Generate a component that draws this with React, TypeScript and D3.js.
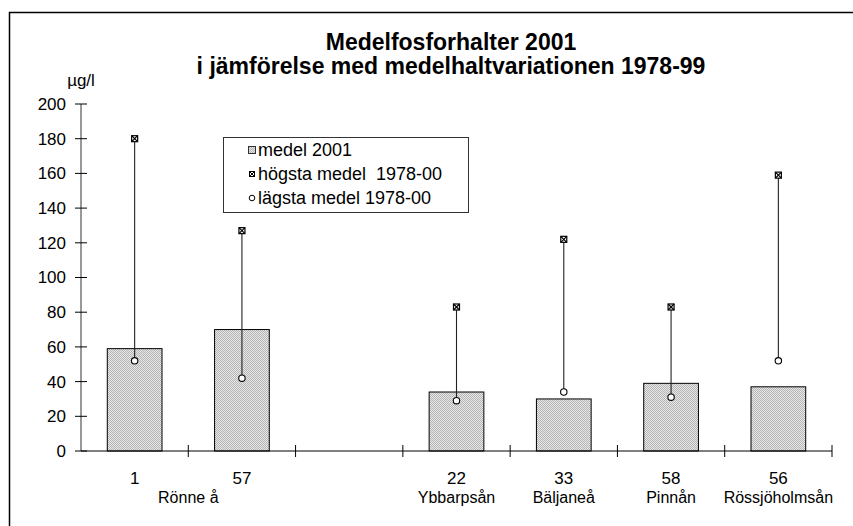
import React from 'react'
import * as d3 from 'd3'

// stations (slot 2 is an empty gap in the original chart)
const stations = ['1', '57', '', '22', '33', '58', '56']
const rivers = ['Rönne å', 'Rönne å', '', 'Ybbarpsån', 'Bäljaneå', 'Pinnån', 'Rössjöholmsån']
const medel2001 = [59, 70, null, 34, 30, 39, 37]
const hogsta = [180, 127, null, 83, 122, 83, 159]
const lagsta = [52, 42, null, 29, 34, 31, 52]
const yTicks = [0, 20, 40, 60, 80, 100, 120, 140, 160, 180, 200]

const legendItems = ['medel 2001', 'högsta medel  1978-00', 'lägsta medel 1978-00']

const font = '"Liberation Sans", Arial, sans-serif'

function App() {
  const width = 853, height = 526
  const margin = { left: 81, right: 21, top: 104, bottom: 75 }

  const slotKeys = stations.map((_, i) => String(i))
  const x = d3.scaleBand()
    .domain(slotKeys)
    .range([margin.left, width - margin.right])
    .paddingInner(0.49)
    .paddingOuter(0.245)

  const y = d3.scaleLinear()
    .domain([0, 200])
    .range([height - margin.bottom, margin.top])

  const step = x.step()
  const x0 = x.range()[0]
  const center = (i: number) => (x(String(i)) as number) + x.bandwidth() / 2
  const boundaries = d3.range(stations.length + 1).map(i => x0 + i * step)

  // group consecutive equal river names for the second label row
  const groups: { name: string, from: number, to: number }[] = []
  rivers.forEach((r, i) => {
    const last = groups[groups.length - 1]
    if (last && last.name === r) last.to = i
    else groups.push({ name: r, from: i, to: i })
  })

  const baseY = y(0)

  return (
    <svg width={width} height={height}
      style={{ position: 'absolute', left: 0, top: 0, background: '#fff' }}
      fontFamily={font}>
      <defs>
        <pattern id="stipple" width={2} height={2} patternUnits="userSpaceOnUse">
          <rect width={2} height={2} fill="#e8e8e8" />
          <rect width={1} height={1} fill="#b4b4b4" />
          <rect x={1} y={1} width={1} height={1} fill="#b4b4b4" />
        </pattern>
      </defs>

      <rect x={9.5} y={12.5} width={870} height={540} fill="none" stroke="#000" strokeWidth={1.5} />

      <text x={451} y={50} textAnchor="middle" fontSize={23} fontWeight="bold">Medelfosforhalter 2001</text>
      <text x={451} y={74} textAnchor="middle" fontSize={23} fontWeight="bold">i jämförelse med medelhaltvariationen 1978-99</text>

      {/* y axis */}
      <text x={margin.left} y={86} textAnchor="middle" fontSize={17}>µg/l</text>
      <line x1={margin.left} x2={margin.left} y1={y(200)} y2={baseY} stroke="#333" />
      {yTicks.map(t => (
        <g key={t}>
          <line x1={margin.left - 6} x2={margin.left + 6} y1={y(t)} y2={y(t)} stroke="#000" />
          <text x={margin.left - 15} y={y(t)} dy="0.35em" textAnchor="end" fontSize={17}>{t}</text>
        </g>
      ))}

      {/* bars */}
      {medel2001.map((v, i) => v === null ? null : (
        <rect key={i} x={x(String(i))} y={y(v)} width={x.bandwidth()} height={baseY - y(v)}
          fill="url(#stipple)" stroke="#000" strokeWidth={1} />
      ))}

      {/* x axis */}
      <line x1={x0} x2={boundaries[boundaries.length - 1]} y1={baseY} y2={baseY} stroke="#000" />
      {boundaries.slice(1).map((b, i) => (
        <line key={i} x1={b} x2={b} y1={baseY - 6} y2={baseY + 6} stroke="#000" />
      ))}
      {stations.map((s, i) => (
        <text key={i} x={center(i)} y={484} textAnchor="middle" fontSize={17}>{s}</text>
      ))}
      {groups.filter(g => g.name).map(g => (
        <text key={g.name} x={(center(g.from) + center(g.to)) / 2} y={503} textAnchor="middle" fontSize={16}>{g.name}</text>
      ))}

      {/* high-low lines and markers */}
      {hogsta.map((h, i) => {
        const l = lagsta[i]
        if (h === null || l === null) return null
        const cx = center(i)
        return (
          <g key={i}>
            <line x1={cx} x2={cx} y1={y(h)} y2={y(l)} stroke="#222" strokeWidth={1.1} />
            <rect x={cx - 3} y={y(h) - 3} width={6} height={6} fill="#fff" stroke="#000" strokeWidth={1.2} />
            <path d={`M${cx - 3},${y(h) - 3}L${cx + 3},${y(h) + 3}M${cx + 3},${y(h) - 3}L${cx - 3},${y(h) + 3}`} stroke="#000" strokeWidth={1.2} />
            <circle cx={cx} cy={y(l)} r={3.2} fill="#fff" stroke="#000" strokeWidth={1.1} />
          </g>
        )
      })}

      {/* legend */}
      <g>
        <rect x={223.5} y={137.5} width={245} height={75} fill="#fff" stroke="#333" strokeWidth={1} />
        {legendItems.map((label, i) => {
          const cy = 150 + i * 24
          return (
            <g key={label}>
              {i === 0 && <rect x={248.5} y={cy - 3.5} width={7} height={7} fill="url(#stipple)" stroke="#333" />}
              {i === 1 && (
                <g>
                  <rect x={249.5} y={cy - 2.5} width={5} height={5} fill="#fff" stroke="#000" />
                  <path d={`M${249.5},${cy - 2.5}L${254.5},${cy + 2.5}M${254.5},${cy - 2.5}L${249.5},${cy + 2.5}`} stroke="#000" />
                </g>
              )}
              {i === 2 && <circle cx={252} cy={cy} r={2.8} fill="#fff" stroke="#000" />}
              <text x={258} y={cy + 6} fontSize={18} style={{ whiteSpace: 'pre' }}>{label}</text>
            </g>
          )
        })}
      </g>
    </svg>
  )
}

export default App
